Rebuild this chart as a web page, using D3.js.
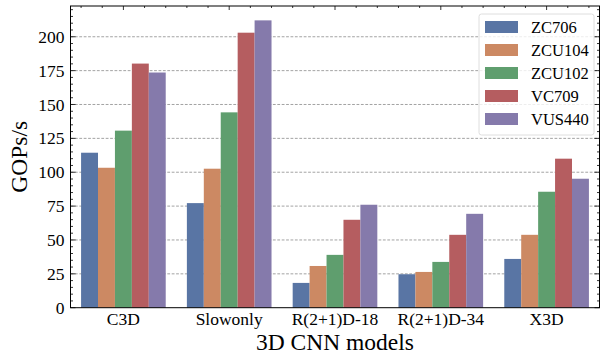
<!DOCTYPE html>
<html>
<head>
<meta charset="utf-8">
<script src="https://cdn.jsdelivr.net/npm/d3@7"></script>
<style>
  body { margin: 0; background: #fff; }
  svg { display: block; }
  svg text { font-family: 'Liberation Serif', 'Times New Roman', Times, 'DejaVu Serif', serif; }
</style>
</head>
<body>
<svg id="chart" width="601" height="354"></svg>
<script>
const models = ['C3D', 'Slowonly', 'R(2+1)D-18', 'R(2+1)D-34', 'X3D'];
const boards = ['ZC706', 'ZCU104', 'ZCU102', 'VC709', 'VUS440'];
const colors = ['#5975a4', '#cc8963', '#5f9e6e', '#b55d60', '#857aab'];

// GOPs/s per board, one value per model
const zc706 = [114.4, 77.2, 18.3, 24.7, 36.0];
const zcu104 = [103.3, 102.6, 30.8, 26.4, 53.8];
const zcu102 = [130.7, 144.2, 39.0, 33.8, 85.6];
const vc709 = [180.2, 203.0, 64.9, 53.8, 110.0];
const vus440 = [173.6, 212.1, 76.0, 69.3, 95.2];
const series = [zc706, zcu104, zcu102, vc709, vus440];

const yTicks = [0, 25, 50, 75, 100, 125, 150, 175, 200];

const svg = d3.select('#chart');
const mLeft = 70.5, mRight = 599.5, mTop = 6, mBottom = 307.7;

const yMax = d3.max(series.flat()) * 1.05;
const y = d3.scaleLinear().domain([0, yMax]).range([mBottom, mTop]);

const x = d3.scaleBand().domain(models).range([mLeft, mRight])
  .paddingInner(0.2).paddingOuter(0.1);
const xInner = d3.scaleBand().domain(boards).range([0, x.bandwidth()]);

// grid
svg.append('g').selectAll('line')
  .data(yTicks.slice(1))
  .enter().append('line')
  .attr('x1', mLeft).attr('x2', mRight)
  .attr('y1', d => y(d)).attr('y2', d => y(d))
  .attr('stroke', '#8c8c8c')
  .attr('stroke-width', 0.8)
  .attr('stroke-dasharray', '2.8,1.6');

// bars
const groups = svg.append('g').selectAll('g')
  .data(boards)
  .enter().append('g')
  .attr('fill', (d, i) => colors[i]);

groups.selectAll('rect')
  .data((b, i) => series[i].map((v, j) => ({ model: models[j], board: b, value: v })))
  .enter().append('rect')
  .attr('x', d => x(d.model) + xInner(d.board))
  .attr('width', xInner.bandwidth())
  .attr('y', d => y(d.value))
  .attr('height', d => y(0) - y(d.value));

// ticks
const ax = svg.append('g').attr('stroke', '#000').attr('stroke-width', 0.8);
const minorY = d3.range(0, yMax, 5);
minorY.forEach(v => {
  const major = v % 25 === 0;
  const len = major ? 5 : 2.5;
  ax.append('line').attr('x1', mLeft).attr('x2', mLeft + len).attr('y1', y(v)).attr('y2', y(v));
  ax.append('line').attr('x1', mRight).attr('x2', mRight - len).attr('y1', y(v)).attr('y2', y(v));
});
const step = x.step();
const c0 = x(models[0]) + x.bandwidth() / 2;
d3.range(-2, 25).forEach(k => {
  const px = c0 + k * step / 5;
  if (px < mLeft || px > mRight) return;
  const len = k % 5 === 0 ? 4 : 2;
  ax.append('line').attr('x1', px).attr('x2', px).attr('y1', mTop).attr('y2', mTop + len);
});

// frame
svg.append('rect')
  .attr('x', mLeft).attr('y', mTop)
  .attr('width', mRight - mLeft).attr('height', mBottom - mTop)
  .attr('fill', 'none').attr('stroke', '#000').attr('stroke-width', 1);

// tick labels
svg.append('g').selectAll('text')
  .data(yTicks)
  .enter().append('text')
  .attr('x', mLeft - 6)
  .attr('y', d => y(d))
  .attr('dy', '0.35em')
  .attr('text-anchor', 'end')
  .style('font-size', '17.5px')
  .text(d => d);

svg.append('g').selectAll('text')
  .data(models)
  .enter().append('text')
  .attr('x', d => x(d) + x.bandwidth() / 2)
  .attr('y', 325)
  .attr('text-anchor', 'middle')
  .style('font-size', '17.5px')
  .text(d => d);

// axis titles
svg.append('text')
  .attr('x', (mLeft + mRight) / 2)
  .attr('y', 349.5)
  .attr('text-anchor', 'middle')
  .style('font-size', '23.5px')
  .text('3D CNN models');

svg.append('text')
  .attr('transform', `translate(27,${(mTop + mBottom) / 2}) rotate(-90)`)
  .attr('text-anchor', 'middle')
  .style('font-size', '23.5px')
  .text('GOPs/s');

// legend
const lg = svg.append('g').attr('transform', 'translate(479,14)');
lg.append('rect')
  .attr('width', 115).attr('height', 121)
  .attr('rx', 2.5)
  .attr('fill', '#fff').attr('fill-opacity', 0.8)
  .attr('stroke', '#d6d6d6').attr('stroke-width', 0.8);

const items = lg.selectAll('.item')
  .data(boards)
  .enter().append('g')
  .attr('class', 'item')
  .attr('transform', (d, i) => `translate(0,${13 + i * 23})`);

items.append('rect')
  .attr('x', 6).attr('y', -6)
  .attr('width', 33).attr('height', 12)
  .attr('fill', (d, i) => colors[i]);

items.append('text')
  .attr('x', 52)
  .attr('dy', '0.35em')
  .style('font-size', '16.5px')
  .text(d => d);
</script>
</body>
</html>
